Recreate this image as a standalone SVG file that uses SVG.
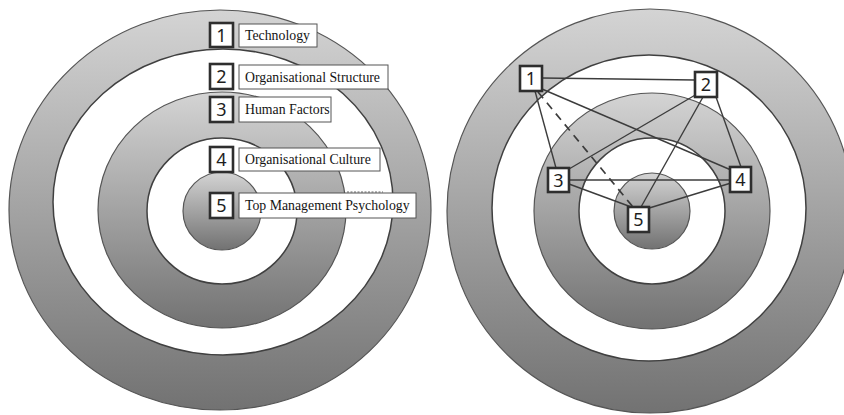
<svg xmlns="http://www.w3.org/2000/svg" width="844" height="415" viewBox="0 0 844 415">
<defs>
<linearGradient id="g" x1="0" y1="0" x2="0" y2="1">
<stop offset="0" stop-color="#d4d4d4"/>
<stop offset="1" stop-color="#727272"/>
</linearGradient>
<style>
.ring{fill:url(#g);stroke:#555;stroke-width:1.2}
.hole{fill:#ffffff;stroke:#404040;stroke-width:1.5}
.num{fill:#fff;stroke:#2e2e2e;stroke-width:2.6}
.lab{fill:#fff;stroke:#555;stroke-width:1}
.nt{font-family:"Noto Sans","Open Sans",sans-serif;font-size:18px;fill:#1e1e1e;text-anchor:middle}
.lt{font-family:"Liberation Serif",serif;font-size:13.8px;fill:#141414}
.edge{stroke:#3c3c3c;stroke-width:1.4;fill:none}
.dash{stroke-width:1.7;stroke-dasharray:8 6}
</style>
</defs>
<rect width="844" height="415" fill="#ffffff"/>
<g id="left-target">
<ellipse class="ring" cx="220" cy="210" rx="211" ry="200"/>
<ellipse class="hole" cx="223" cy="202" rx="170" ry="153"/>
<ellipse class="ring" cx="222" cy="210" rx="124" ry="118"/>
<ellipse class="hole" cx="222" cy="211" rx="75" ry="73"/>
<circle class="ring" cx="222" cy="211" r="39"/>
</g>
<g id="right-target">
<ellipse class="ring" cx="650" cy="211" rx="203" ry="202"/>
<ellipse class="hole" cx="649" cy="208" rx="157" ry="153"/>
<circle class="ring" cx="652" cy="211" r="118"/>
<circle class="hole" cx="652" cy="211" r="73"/>
<circle class="ring" cx="652" cy="211" r="38"/>
</g>
<g id="legend-1"><rect class="num" x="210" y="23" width="23" height="24"/><text class="nt" x="221.5" y="41.5">1</text><rect class="lab" x="239" y="24" width="78" height="23"/><text class="lt" x="245" y="40">Technology</text></g>
<g id="legend-2"><rect class="num" x="210" y="64" width="23" height="25"/><text class="nt" x="221.5" y="83">2</text><rect class="lab" x="239" y="65" width="149" height="24"/><text class="lt" x="245" y="81.5">Organisational Structure</text></g>
<g id="legend-3"><rect class="num" x="210" y="97" width="23" height="25"/><text class="nt" x="221.5" y="116">3</text><rect class="lab" x="239" y="97" width="92" height="25"/><text class="lt" x="245" y="114">Human Factors</text></g>
<g id="legend-4"><rect class="num" x="210" y="147" width="23" height="25"/><text class="nt" x="221.5" y="166">4</text><rect class="lab" x="239" y="148" width="141" height="23"/><text class="lt" x="245" y="164">Organisational Culture</text></g>
<line x1="347" y1="192" x2="383" y2="192" stroke="#666" stroke-width="1" stroke-dasharray="2 1.5"/>
<g id="legend-5"><rect class="num" x="210" y="193" width="23" height="25"/><text class="nt" x="221.5" y="212">5</text><rect class="lab" x="239" y="193" width="177" height="25"/><text class="lt" x="245" y="210">Top Management Psychology</text></g>
<g id="connectors">
<line class="edge" x1="542" y1="78" x2="695" y2="80"/>
<line class="edge" x1="535" y1="91" x2="556" y2="168"/>
<line class="edge" x1="542" y1="89" x2="731" y2="170"/>
<line class="edge dash" x1="538" y1="92" x2="633" y2="207"/>
<line class="edge" x1="697" y1="94" x2="569" y2="169"/>
<line class="edge" x1="716" y1="97" x2="741" y2="167"/>
<line class="edge" x1="703" y1="97" x2="641" y2="207"/>
<line class="edge" x1="569" y1="180" x2="730" y2="180"/>
<line class="edge" x1="569" y1="184" x2="634" y2="208"/>
<line class="edge" x1="731" y1="183" x2="646" y2="209"/>
</g>
<g id="node-1"><rect class="num" x="520" y="66" width="22" height="25"/><text class="nt" x="531" y="85">1</text></g>
<g id="node-2"><rect class="num" x="695" y="72" width="22" height="25"/><text class="nt" x="706" y="91">2</text></g>
<g id="node-3"><rect class="num" x="548" y="168" width="21" height="24"/><text class="nt" x="558.5" y="186.5">3</text></g>
<g id="node-4"><rect class="num" x="730" y="167" width="21" height="25"/><text class="nt" x="740.5" y="186">4</text></g>
<g id="node-5"><rect class="num" x="628" y="207" width="21" height="25"/><text class="nt" x="638.5" y="226">5</text></g>
</svg>
